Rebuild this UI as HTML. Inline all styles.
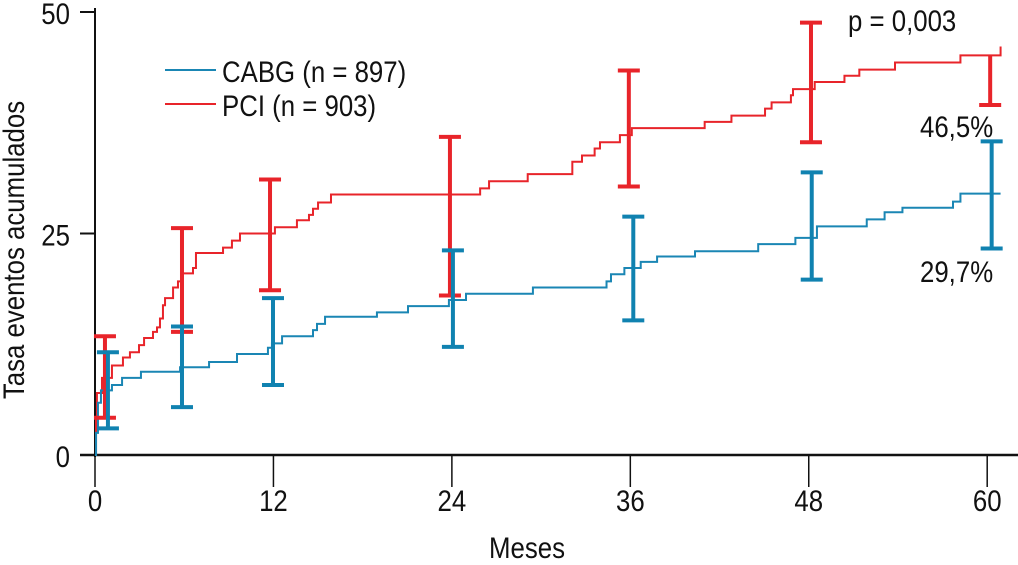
<!DOCTYPE html>
<html><head><meta charset="utf-8"><style>
body{margin:0;background:#fff}
svg text{font-family:"Liberation Sans",sans-serif;fill:#111}
</style></head><body>
<svg id="chart" width="1018" height="560" xmlns="http://www.w3.org/2000/svg"></svg>
<script>
const yTicks=[0,25,50];
const xTicks=[0,12,24,36,48,60];
const cabgMonths=[0,0.07,0.2,0.4,1.14,1.82,3.09,5.72,7.67,9.55,11.63,11.9,12.58,14.66,14.93,15.47,18.96,21.05,23.8,24.95,29.45,34.4,34.7,35.6,36.7,37.8,40.35,44.6,47.1,48.55,51.9,53.1,54.3,57.7,58.2,60.9];
const cabgValues=[0,2.5,5.9,7.3,7.9,8.7,9.4,9.9,10.5,11.4,12.1,12.6,13.4,14.1,14.8,15.6,16.1,16.8,17.5,18.2,18.9,19.6,20.4,21.1,21.8,22.4,23.0,23.8,24.5,25.8,26.6,27.4,27.9,28.6,29.5,29.5];
const pciMonths=[0,0.07,0.13,0.47,1.14,1.88,2.35,2.96,3.3,3.9,4.17,4.37,4.57,4.71,5.25,5.58,5.85,6.59,6.79,8.61,9.21,9.75,12.1,13.58,14.39,14.66,15.0,15.87,25.9,26.5,29.1,32.1,32.75,33.6,33.96,35.3,36.1,41.0,42.8,45.06,45.5,46.8,46.94,48.4,50.4,51.4,53.8,58.2,60.9];
const pciValues=[0,4.2,7.0,8.7,10.1,11.0,11.6,12.4,13.2,13.9,14.4,15.4,16.9,17.7,18.9,19.6,20.5,21.1,22.8,23.4,24.2,25.0,25.7,26.5,27.1,27.8,28.5,29.4,30.1,30.9,31.7,33.1,33.8,34.6,35.3,36.1,36.9,37.6,38.3,39.1,39.8,40.6,41.3,42.1,42.8,43.5,44.3,45.1,46.1];
const cabgBarMonths=[0.87,5.85,11.97,24.07,36.2,48.2,60.3];
const cabgLow=[3.0,5.4,7.9,12.2,15.2,19.8,23.3];
const cabgHigh=[11.6,14.5,17.7,23.1,26.9,31.9,35.4];
const pciBarMonths=[0.67,5.85,11.77,23.87,35.9,48.15,60.2];
const pciLow=[4.2,13.9,18.6,18.0,30.3,35.3,39.5];
const pciHigh=[13.4,25.6,31.1,35.9,43.4,48.8,45.1];

const X=m=>95+m*14.87, Y=v=>455-v*8.86;
const svg=document.getElementById('chart');const NS='http://www.w3.org/2000/svg';
function mk(tag,attrs,parent){const e=document.createElementNS(NS,tag);for(const k in attrs)e.setAttribute(k,attrs[k]);(parent||svg).appendChild(e);return e;}
function txt(x,y,s,anchor,parent,rot){
  const tr='translate('+x+','+y+')'+(rot?' rotate(-90)':'')+' scale(0.86,1)';
  const t=mk('text',{x:0,y:0,'text-anchor':anchor,'font-size':30,transform:tr},parent);
  t.textContent=s;return t;
}

const ax=mk('g',{});


mk('line',{x1:95,y1:8,x2:95,y2:457,stroke:'#111','stroke-width':2},ax);
mk('line',{x1:80,y1:455,x2:1018,y2:455,stroke:'#111','stroke-width':2.5},ax);
yTicks.forEach(v=>{
  mk('line',{x1:80,y1:Y(v),x2:95,y2:Y(v),stroke:'#111','stroke-width':2},ax);
  const t=txt(70,Y(v)+12,String(v),'end',ax);
  
  
});
xTicks.forEach(m=>{
  mk('line',{x1:X(m),y1:455,x2:X(m),y2:487,stroke:'#111','stroke-width':1.5},ax);
  const t=txt(X(m),511,String(m),'middle',ax);
  
  
});
const xt=txt(527,558,'Meses','middle');


const yt=txt(24,250,'Tasa eventos acumulados','middle',null,true);



function stepPath(ms,vs){let d='M'+X(ms[0])+','+Y(vs[0]);for(let i=1;i<ms.length;i++){d+=' H'+X(ms[i])+' V'+Y(vs[i]);}return d;}
function bars(ms,lo,hi,color,name,noLastTop){
  const g=mk('g',{});
  
  
  ms.forEach((m,i)=>{
    const x=X(m);const yTop=Y(hi[i]);const yl=Y(lo[i]);
    mk('line',{x1:x,y1:yTop,x2:x,y2:yl,stroke:color,'stroke-width':4},g);
    mk('line',{x1:x-11,y1:yl,x2:x+11,y2:yl,stroke:color,'stroke-width':4},g);
    if(!(noLastTop&&i===ms.length-1))mk('line',{x1:x-11,y1:yTop,x2:x+11,y2:yTop,stroke:color,'stroke-width':4},g);
  });
}
const pl=mk('path',{d:stepPath(pciMonths,pciValues),fill:'none',stroke:'#e8242a','stroke-width':2});


const cl=mk('path',{d:stepPath(cabgMonths,cabgValues),fill:'none',stroke:'#1a86b4','stroke-width':2});


bars(pciBarMonths,pciLow,pciHigh,'#e8242a','pci-error-bars',true);
bars(cabgBarMonths,cabgLow,cabgHigh,'#1082b0','cabg-error-bars',false);

const lg=mk('g',{});


mk('line',{x1:165,y1:70,x2:216,y2:70,stroke:'#1a86b4','stroke-width':2},lg);
let t=txt(222,82,'CABG (n = 897)','start',lg);


mk('line',{x1:165,y1:104,x2:216,y2:104,stroke:'#e8242a','stroke-width':2},lg);
t=txt(222,116,'PCI (n = 903)','start',lg);



t=txt(848,31,'p = 0,003','start');


t=txt(920,137,'46,5%','start');


t=txt(920,282,'29,7%','start');


</script>
</body></html>
